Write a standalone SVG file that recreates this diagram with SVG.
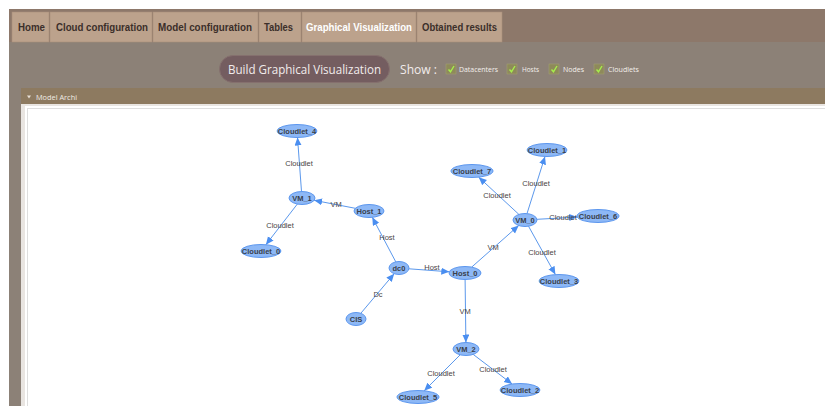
<svg xmlns="http://www.w3.org/2000/svg" width="825" height="406" viewBox="0 0 825 406">
  <style>
    .tab { fill: #bca28c; stroke: #a88f7b; stroke-width: 0.6; }
    .tabtxt { font-family: "Liberation Sans", Arial, sans-serif; font-weight: bold; font-size: 10.5px; fill: #3b2f2a; }
    .chk { fill: #8e8a5a; stroke: #a29e70; stroke-width: 0.6; }
    .tick { fill: none; stroke: #a6f04c; stroke-width: 1.4; }
    .chklbl { font-family: "Open Sans", "DejaVu Sans", sans-serif; font-size: 8px; fill: #f4f0ec; }
    .node ellipse { fill: #8db8f6; stroke: #5b96ee; stroke-width: 1; }
    .node text { font-family: "Liberation Sans", Arial, sans-serif; font-size: 7.5px; font-weight: bold; fill: #3a3f4a; text-anchor: middle; dominant-baseline: central; }
    .edge { stroke: #5b98ec; stroke-width: 1; fill: none; marker-end: url(#arrow); }
    .elbl { font-family: "Liberation Sans", Arial, sans-serif; font-size: 7.5px; fill: #4a4444; text-anchor: middle; dominant-baseline: central; }
  </style>
  <defs>
    <marker id="arrow" markerUnits="userSpaceOnUse" markerWidth="9" markerHeight="8" refX="8" refY="3.5" orient="auto">
      <path d="M0,0 L8,3.5 L0,7 z" fill="#4a8ef0"/>
    </marker>
  </defs>

  <!-- page background -->
  <rect x="0" y="0" width="825" height="406" fill="#ffffff"/>
  <rect x="9" y="42" width="816" height="364" fill="#8c8177"/>

  <!-- tab bar -->
  <rect x="9" y="9" width="816" height="33" fill="#8d786a"/>
  <g id="tabs">
    <rect class="tab" x="12" y="12" width="37" height="30"/>
    <text class="tabtxt" x="18" y="31" textLength="27" lengthAdjust="spacingAndGlyphs">Home</text>
    <rect class="tab" x="50" y="12" width="102" height="30"/>
    <text class="tabtxt" x="56" y="31" textLength="92" lengthAdjust="spacingAndGlyphs">Cloud configuration</text>
    <rect class="tab" x="153" y="12" width="105" height="30"/>
    <text class="tabtxt" x="158" y="31" textLength="94" lengthAdjust="spacingAndGlyphs">Model configuration</text>
    <rect class="tab" x="259" y="12" width="42" height="30"/>
    <text class="tabtxt" x="264" y="31" textLength="29" lengthAdjust="spacingAndGlyphs">Tables</text>
    <rect class="tab" x="302" y="12" width="114" height="30"/>
    <text class="tabtxt" x="306" y="31" textLength="106" lengthAdjust="spacingAndGlyphs" style="fill:#ffffff">Graphical Visualization</text>
    <rect class="tab" x="417" y="12" width="85" height="30"/>
    <text class="tabtxt" x="422" y="31" textLength="75" lengthAdjust="spacingAndGlyphs">Obtained results</text>
  </g>

  <!-- toolbar -->
  <g id="build-button">
    <rect x="219.5" y="55.5" width="170" height="27" rx="13.5" fill="#745d60" stroke="#85706e"/>
    <text x="304.5" y="73.5" text-anchor="middle" font-family="'Open Sans', 'DejaVu Sans', sans-serif" font-size="12.5" fill="#f2ecec" textLength="153" lengthAdjust="spacingAndGlyphs">Build Graphical Visualization</text>
  </g>
  <text x="400" y="73.5" font-family="'Open Sans', 'DejaVu Sans', sans-serif" font-size="13" fill="#f2ecec" textLength="37" lengthAdjust="spacingAndGlyphs">Show :</text>
  <g id="filters">
    <rect class="chk" x="446" y="64" width="10" height="10"/>
    <path class="tick" d="M448.5,69.5 L450.5,71.8 L454,66"/>
    <text class="chklbl" x="459" y="72" textLength="39" lengthAdjust="spacingAndGlyphs">Datacenters</text>
    <rect class="chk" x="507" y="64" width="10" height="10"/>
    <path class="tick" d="M509.5,69.5 L511.5,71.8 L515,66"/>
    <text class="chklbl" x="522" y="72" textLength="17" lengthAdjust="spacingAndGlyphs">Hosts</text>
    <rect class="chk" x="549" y="64" width="10" height="10"/>
    <path class="tick" d="M551.5,69.5 L553.5,71.8 L557,66"/>
    <text class="chklbl" x="563" y="72" textLength="21" lengthAdjust="spacingAndGlyphs">Nodes</text>
    <rect class="chk" x="594" y="64" width="10" height="10"/>
    <path class="tick" d="M596.5,69.5 L598.5,71.8 L602,66"/>
    <text class="chklbl" x="608" y="72" textLength="31" lengthAdjust="spacingAndGlyphs">Cloudlets</text>
  </g>

  <!-- panel -->
  <rect x="21" y="88" width="804" height="16" fill="#8d7a60"/>
  <path d="M27,95.5 L31,95.5 L29,98.5 z" fill="#e8e0d6"/>
  <text x="36" y="99.5" font-family="'Open Sans', 'DejaVu Sans', sans-serif" font-size="8" fill="#f0ebe4" textLength="41" lengthAdjust="spacingAndGlyphs">Model Archi</text>
  <rect x="21" y="104" width="804" height="302" fill="#e9e5e1"/>
  <rect x="25" y="106" width="800" height="300" fill="#ffffff"/>
  <rect x="27.5" y="108.5" width="798" height="298" fill="#ffffff" stroke="#dedede"/>

  <!-- connectors -->
  <g id="connectors">
    <line class="edge" x1="301.5" y1="191.5" x2="297.5" y2="137.5"/>
    <line class="edge" x1="297.3" y1="204.1" x2="265.9" y2="244.7"/>
    <line class="edge" x1="355.3" y1="208.3" x2="314.1" y2="200.3"/>
    <line class="edge" x1="395.8" y1="261.9" x2="372.3" y2="217.3"/>
    <line class="edge" x1="408.9" y1="268.8" x2="449.3" y2="271.8"/>
    <line class="edge" x1="360.8" y1="313.3" x2="394.2" y2="273.7"/>
    <line class="edge" x1="471.7" y1="267.1" x2="518.7" y2="225.5"/>
    <line class="edge" x1="465.1" y1="279.5" x2="465.9" y2="342.5"/>
    <line class="edge" x1="527" y1="213.6" x2="545" y2="156.5"/>
    <line class="edge" x1="518.9" y1="214.4" x2="478.7" y2="177.2"/>
    <line class="edge" x1="536.9" y1="219.3" x2="577.3" y2="217.1"/>
    <line class="edge" x1="528.5" y1="226.2" x2="555.4" y2="274.6"/>
    <line class="edge" x1="460.2" y1="354.8" x2="424.2" y2="390.8"/>
    <line class="edge" x1="473.2" y1="354.4" x2="512.1" y2="384"/>

    <text class="elbl" x="299" y="163">Cloudlet</text>
    <text class="elbl" x="280" y="225">Cloudlet</text>
    <text class="elbl" x="336" y="204">VM</text>
    <text class="elbl" x="387" y="237">Host</text>
    <text class="elbl" x="432" y="267">Host</text>
    <text class="elbl" x="378" y="294">Dc</text>
    <text class="elbl" x="465" y="311">VM</text>
    <text class="elbl" x="493" y="247">VM</text>
    <text class="elbl" x="536" y="183">Cloudlet</text>
    <text class="elbl" x="497" y="195">Cloudlet</text>
    <text class="elbl" x="563" y="217">Cloudlet</text>
    <text class="elbl" x="542" y="252">Cloudlet</text>
    <text class="elbl" x="441" y="373">Cloudlet</text>
    <text class="elbl" x="493" y="369">Cloudlet</text>
  </g>

  <!-- nodes -->
  <g id="Cloudlet_4" class="node"><ellipse cx="297" cy="131" rx="20" ry="6.5"/><text x="297" y="131">Cloudlet_4</text></g>
  <g id="VM_1" class="node"><ellipse cx="302" cy="198" rx="13" ry="6.5"/><text x="302" y="198">VM_1</text></g>
  <g id="Host_1" class="node"><ellipse cx="369" cy="211" rx="15" ry="6.5"/><text x="369" y="211">Host_1</text></g>
  <g id="Cloudlet_0" class="node"><ellipse cx="261" cy="251" rx="20" ry="6.5"/><text x="261" y="251">Cloudlet_0</text></g>
  <g id="dc0" class="node"><ellipse cx="399" cy="268" rx="10" ry="6.5"/><text x="399" y="268">dc0</text></g>
  <g id="CIS" class="node"><ellipse cx="356" cy="319" rx="10" ry="6.5"/><text x="356" y="319">CIS</text></g>
  <g id="Host_0" class="node"><ellipse cx="465" cy="273" rx="16" ry="6.5"/><text x="465" y="273">Host_0</text></g>
  <g id="VM_2" class="node"><ellipse cx="466" cy="349" rx="13" ry="6.5"/><text x="466" y="349">VM_2</text></g>
  <g id="Cloudlet_5" class="node"><ellipse cx="418" cy="397" rx="21" ry="6.5"/><text x="418" y="397">Cloudlet_5</text></g>
  <g id="Cloudlet_2" class="node"><ellipse cx="520" cy="390" rx="20" ry="6.5"/><text x="520" y="390">Cloudlet_2</text></g>
  <g id="VM_0" class="node"><ellipse cx="525" cy="220" rx="12" ry="6.5"/><text x="525" y="220">VM_0</text></g>
  <g id="Cloudlet_7" class="node"><ellipse cx="472" cy="171" rx="21" ry="6.5"/><text x="472" y="171">Cloudlet_7</text></g>
  <g id="Cloudlet_1" class="node"><ellipse cx="547" cy="150" rx="20" ry="6.5"/><text x="547" y="150">Cloudlet_1</text></g>
  <g id="Cloudlet_6" class="node"><ellipse cx="598" cy="216" rx="21" ry="6.5"/><text x="598" y="216">Cloudlet_6</text></g>
  <g id="Cloudlet_3" class="node"><ellipse cx="559" cy="281" rx="20" ry="6.5"/><text x="559" y="281">Cloudlet_3</text></g>
</svg>
